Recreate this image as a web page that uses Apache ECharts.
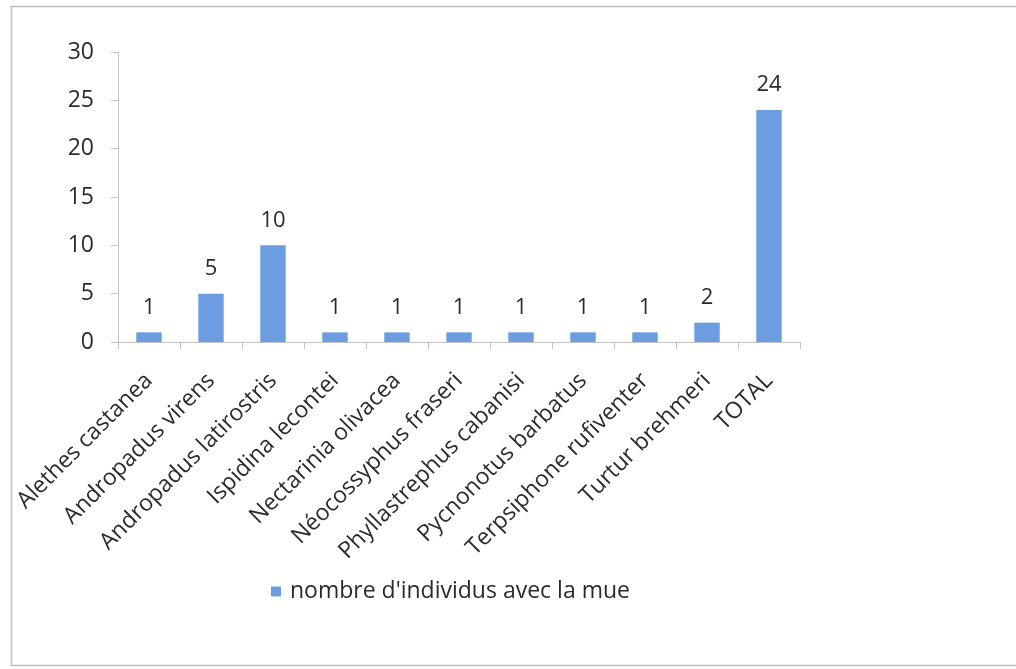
<!DOCTYPE html>
<html>
<head>
<meta charset="utf-8">
<script src="https://cdn.jsdelivr.net/npm/echarts@6/dist/echarts.min.js"></script>
<style>
  html, body { margin: 0; padding: 0; background: #ffffff; }
  #chart { width: 1016px; height: 669px; }
</style>
</head>
<body>
<div id="chart"></div>
<script>
// Species names (x-axis categories)
const species = [
  'Alethes castanea',
  'Andropadus virens',
  'Andropadus latirostris',
  'Ispidina lecontei',
  'Nectarinia olivacea',
  'Néocossyphus fraseri',
  'Phyllastrephus cabanisi',
  'Pycnonotus barbatus',
  'Terpsiphone rufiventer',
  'Turtur brehmeri',
  'TOTAL'
];

// Number of moulting individuals per species
const moultCounts = [1, 5, 10, 1, 1, 1, 1, 1, 1, 2, 24];

const seriesName = "nombre d'individus avec la mue";

const yMin = 0;
const yMax = 30;
const yStep = 5;

const textFont = 'Open Sans';
const textColor = '#2b2b2b';
const barColor = '#6c9de0';
const axisColor = '#c4c4c4';

const chart = echarts.init(document.getElementById('chart'));

chart.setOption({
  animation: false,
  backgroundColor: '#ffffff',
  textStyle: { fontFamily: textFont },
  graphic: [{
    type: 'rect',
    silent: true,
    shape: { x: 11.5, y: 6.5, width: 1040, height: 659 },
    style: { fill: 'none', stroke: '#bdbdbd', lineWidth: 1.5 }
  }],
  grid: {
    left: 118,
    right: 216,
    top: 52,
    bottom: 327,
    containLabel: false
  },
  legend: {
    left: 266,
    top: 575,
    icon: 'rect',
    itemWidth: 10,
    itemHeight: 10,
    itemGap: 6,
    textStyle: { fontFamily: textFont, fontSize: 23, color: textColor, padding: [0, 0, 0, 4] },
    data: [seriesName]
  },
  xAxis: {
    type: 'category',
    data: species,
    axisLine: { show: true, lineStyle: { color: axisColor, width: 1 } },
    axisTick: { show: true, length: 7, alignWithLabel: false, lineStyle: { color: axisColor } },
    axisLabel: {
      rotate: 45,
      interval: 0,
      margin: 35,
      fontFamily: textFont,
      fontSize: 23,
      color: textColor
    },
    splitLine: { show: false }
  },
  yAxis: {
    type: 'value',
    min: yMin,
    max: yMax,
    interval: yStep,
    axisLine: { show: true, lineStyle: { color: axisColor, width: 1 } },
    axisTick: { show: true, length: 7, lineStyle: { color: axisColor } },
    axisLabel: {
      margin: 24,
      fontFamily: textFont,
      fontSize: 23,
      color: textColor
    },
    splitLine: { show: false }
  },
  series: [{
    name: seriesName,
    type: 'bar',
    data: moultCounts,
    barWidth: '41%',
    itemStyle: { color: barColor },
    label: {
      show: true,
      position: 'top',
      distance: 14,
      fontFamily: textFont,
      fontSize: 22,
      color: textColor
    }
  }]
});
</script>
</body>
</html>
